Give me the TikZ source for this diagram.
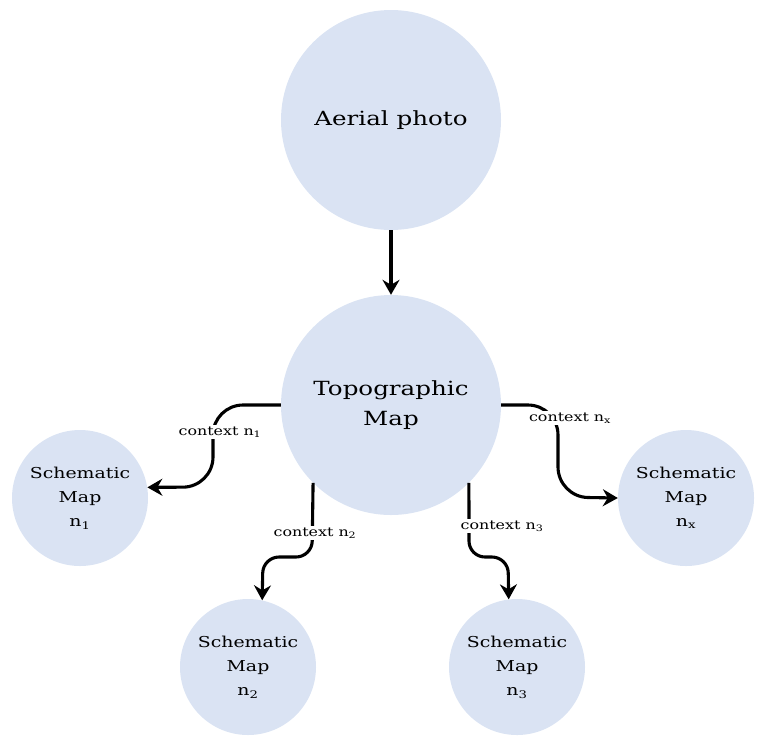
\documentclass[tikz,border=0pt]{standalone}
\usepackage{fontspec}
\setmainfont{DejaVu Serif}[FakeStretch=1.26]
\usetikzlibrary{arrows.meta}
\definecolor{bubble}{RGB}{218,227,243}
\tikzset{
  bigc/.style={circle,fill=bubble,minimum size=220pt,inner sep=0pt,align=center,font=\fontsize{19.5}{30}\selectfont},
  smallc/.style={circle,fill=bubble,minimum size=136pt,inner sep=0pt,align=center,font=\fontsize{15}{24}\selectfont},
  lbl/.style={fill=white,inner sep=1.5pt,font=\fontsize{12.6}{14}\selectfont},
  arr/.style={line width=3.1pt,-{Stealth[length=15pt,width=17pt,inset=5pt]}},
}
\begin{document}
\begin{tikzpicture}[x=1pt,y=-1pt]
\useasboundingbox (0,0) rectangle (759,740);
\node[bigc] (aerial) at (391,120) {Aerial photo};
\node[bigc] (topo) at (391,405) {Topographic\\Map};
\node[smallc] (n1) at (80,498) {Schematic\\Map\\n\textsubscript{1}};
\node[smallc] (nx) at (686,498) {Schematic\\Map\\n\textsubscript{x}};
\node[smallc] (n2) at (248,667) {Schematic\\Map\\n\textsubscript{2}};
\node[smallc] (n3) at (517,667) {Schematic\\Map\\n\textsubscript{3}};
\coordinate (c1a) at (213,405);
\coordinate (c1b) at (213,487);
\coordinate (c2a) at (312,557);
\coordinate (c2b) at (263,557);
\coordinate (c3a) at (469,557);
\coordinate (c3b) at (508,557);
\coordinate (cxa) at (558,405);
\coordinate (cxb) at (558,497);
\draw[arr] (aerial) -- (topo);
\draw[arr,rounded corners=30pt] (topo.west) -- (c1a) -- (c1b) -- (n1.9);
\draw[arr,rounded corners=16pt] (topo.225) -- (c2a) -- (c2b) -- (n2.78);
\draw[arr,rounded corners=16pt] (topo.-45) -- (c3a) -- (c3b) -- (n3.97);
\draw[arr,rounded corners=30pt] (topo.east) -- (cxa) -- (cxb) -- (nx.west);
\node[lbl] (l1) at (220,432) {context n\textsubscript{1}};
\node[lbl] (l2) at (315,533) {context n\textsubscript{2}};
\node[lbl] (l3) at (502,526) {context n\textsubscript{3}};
\node[lbl] (lx) at (570,418) {context n\textsubscript{x}};
\end{tikzpicture}
\end{document}
